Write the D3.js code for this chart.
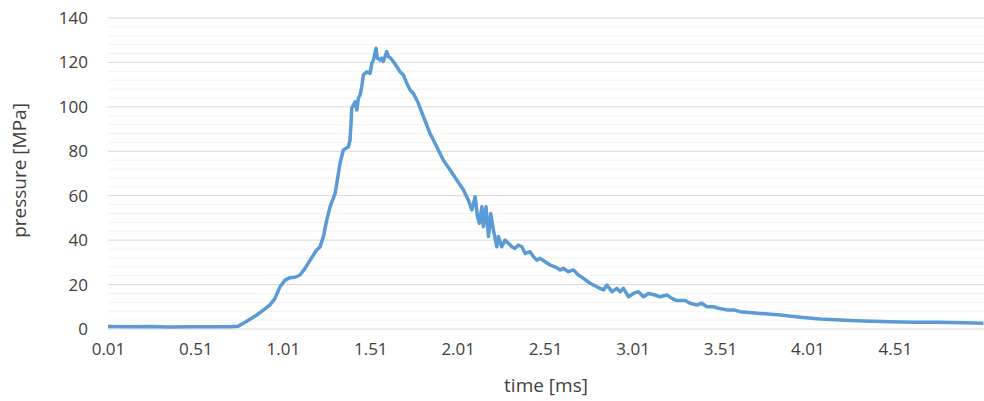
<!DOCTYPE html>
<meta charset="utf-8">
<html>
<head>
  <title>Pressure trace</title>
  <style>
    body { margin: 0; background: #fff; }
    svg { display: block; }
    text { font-family: 'Open Sans', sans-serif; fill: #404040; }
    .line { fill: none; stroke: #5b9bd5; stroke-width: 3.5px; stroke-linejoin: round; }
  </style>
  <script src="https://d3js.org/d3.v7.min.js"></script>
</head>
<body>
  <svg width="984" height="401"></svg>
  <script>
    // values
    var timeMs = [
      0.01, 0.136, 0.25, 0.365, 0.479, 0.594, 0.708, 0.754, 0.794, 0.822,
      0.861, 0.898, 0.936, 0.965, 0.994, 1.023, 1.051, 1.08, 1.108, 1.137,
      1.166, 1.204, 1.223, 1.242, 1.261, 1.28, 1.309, 1.337, 1.356, 1.385,
      1.394, 1.4, 1.404, 1.423, 1.433, 1.442, 1.452, 1.461, 1.471, 1.49,
      1.509, 1.519, 1.528, 1.543, 1.551, 1.566, 1.576, 1.585, 1.604, 1.614,
      1.627, 1.642, 1.662, 1.68, 1.699, 1.719, 1.738, 1.757, 1.785, 1.814,
      1.852, 1.89, 1.928, 1.967, 2.005, 2.043, 2.071, 2.091, 2.11, 2.123,
      2.134, 2.148, 2.157, 2.172, 2.186, 2.199, 2.214, 2.234, 2.243, 2.262,
      2.281, 2.3, 2.32, 2.338, 2.357, 2.377, 2.396, 2.424, 2.443, 2.462,
      2.481, 2.51, 2.539, 2.567, 2.596, 2.615, 2.643, 2.672, 2.7, 2.729,
      2.767, 2.806, 2.844, 2.863, 2.892, 2.92, 2.939, 2.958, 2.987, 3.015,
      3.044, 3.072, 3.101, 3.139, 3.168, 3.206, 3.235, 3.263, 3.311, 3.339,
      3.378, 3.406, 3.435, 3.473, 3.501, 3.549, 3.587, 3.626, 3.74, 3.854,
      3.969, 4.083, 4.198, 4.331, 4.484, 4.617, 4.751, 4.903, 5.017
    ];
    var pressureMPa = [
      1.1, 1.0, 1.1, 0.9, 1.0, 1.0, 1.0, 1.2, 3.0, 4.4,
      6.3, 8.5, 10.8, 13.8, 19, 22, 23.1, 23.3, 24.3, 27.3,
      31, 35.6, 37, 41.6, 49, 55, 61, 74.6, 80.6, 82,
      85, 92.6, 99.4, 102.3, 98.6, 103.9, 105.4, 109, 114.4, 115.8,
      115.1, 119.6, 121, 126.4, 121.9, 121, 121.9, 120.4, 124.9, 122.6,
      121.9, 120.4, 118.1, 115.8, 114.4, 110.6, 107.6, 106, 101.6, 95.6,
      88, 82, 76, 71.6, 67, 62.6, 58, 53.6, 59.6, 50.6,
      47.6, 55, 46, 55, 41.6, 52, 44.6, 37, 41.6, 37,
      40, 38.6, 37, 36.3, 37.8, 37, 34, 34.8, 32.6, 31,
      31.8, 30.3, 28.8, 28, 26.6, 27.3, 25.8, 26.6, 24.3, 22.8,
      20.6, 19, 17.6, 19.8, 16.8, 18.3, 16.8, 18.3, 14.5, 16,
      16.8, 14.5, 16, 15.3, 14.5, 15.3, 13.8, 12.8, 12.8, 11.6,
      10.8, 11.6, 10, 10, 9.3, 8.6, 8.6, 7.8, 7, 6.3,
      5.3, 4.5, 4, 3.6, 3.3, 3, 3, 2.8, 2.6
    ];
    var xTickLabels = ["0.01", "0.51", "1.01", "1.51", "2.01", "2.51", "3.01", "3.51", "4.01", "4.51"];
    var yTicks = [0, 20, 40, 60, 80, 100, 120, 140];

    var svg = d3.select("svg");
    var margin = {top: 18, right: 0, bottom: 72, left: 108};
    var width = 984 - margin.left - margin.right;
    var height = 401 - margin.top - margin.bottom;

    var x = d3.scaleLinear().domain([0.01, 5.02]).range([0, width]);
    var y = d3.scaleLinear().domain([0, 140]).range([height, 0]);

    var g = svg.append("g")
      .attr("transform", "translate(" + margin.left + "," + margin.top + ")");

    // minor gridlines every 4 MPa
    g.append("g")
      .selectAll("line")
      .data(d3.range(4, 140, 4).filter(function(v) { return v % 20 !== 0; }))
      .join("line")
      .attr("x1", 0).attr("x2", width)
      .attr("y1", function(d) { return y(d); }).attr("y2", function(d) { return y(d); })
      .attr("stroke", "#f2f2f2").attr("stroke-width", 1);

    // major gridlines
    g.append("g")
      .selectAll("line")
      .data(yTicks)
      .join("line")
      .attr("x1", 0).attr("x2", width)
      .attr("y1", function(d) { return y(d); }).attr("y2", function(d) { return y(d); })
      .attr("stroke", "#d9d9d9").attr("stroke-width", 1);

    // y axis labels
    var yAxis = g.append("g")
      .call(d3.axisLeft(y).tickValues(yTicks).tickSize(0).tickPadding(20));
    yAxis.select(".domain").remove();
    yAxis.selectAll("text")
      .style("font-size", "17px").attr("fill", "#404040");

    // x axis labels
    var xAxis = g.append("g")
      .attr("transform", "translate(0," + height + ")")
      .call(d3.axisBottom(x)
        .tickValues(xTickLabels.map(Number))
        .tickFormat(function(d, i) { return xTickLabels[i]; })
        .tickSize(0).tickPadding(14));
    xAxis.select(".domain").remove();
    xAxis.selectAll("text")
      .style("font-size", "17px").attr("fill", "#404040");

    // the pressure line
    var data = timeMs.map(function(t, i) { return {t: t, p: pressureMPa[i]}; });
    var line = d3.line()
      .x(function(d) { return x(d.t); })
      .y(function(d) { return y(d.p); });

    g.append("path")
      .datum(data)
      .attr("class", "line")
      .attr("d", line);

    // axis titles
    svg.append("text")
      .attr("transform", "translate(21," + (margin.top + height / 2 - 3) + ") rotate(-90)")
      .attr("text-anchor", "middle")
      .attr("dominant-baseline", "middle")
      .style("font-size", "19px")
      .text("pressure [MPa]");

    svg.append("text")
      .attr("x", 546)
      .attr("y", 387)
      .attr("text-anchor", "middle")
      .attr("dominant-baseline", "middle")
      .style("font-size", "19px")
      .text("time [ms]");
  </script>
</body>
</html>
